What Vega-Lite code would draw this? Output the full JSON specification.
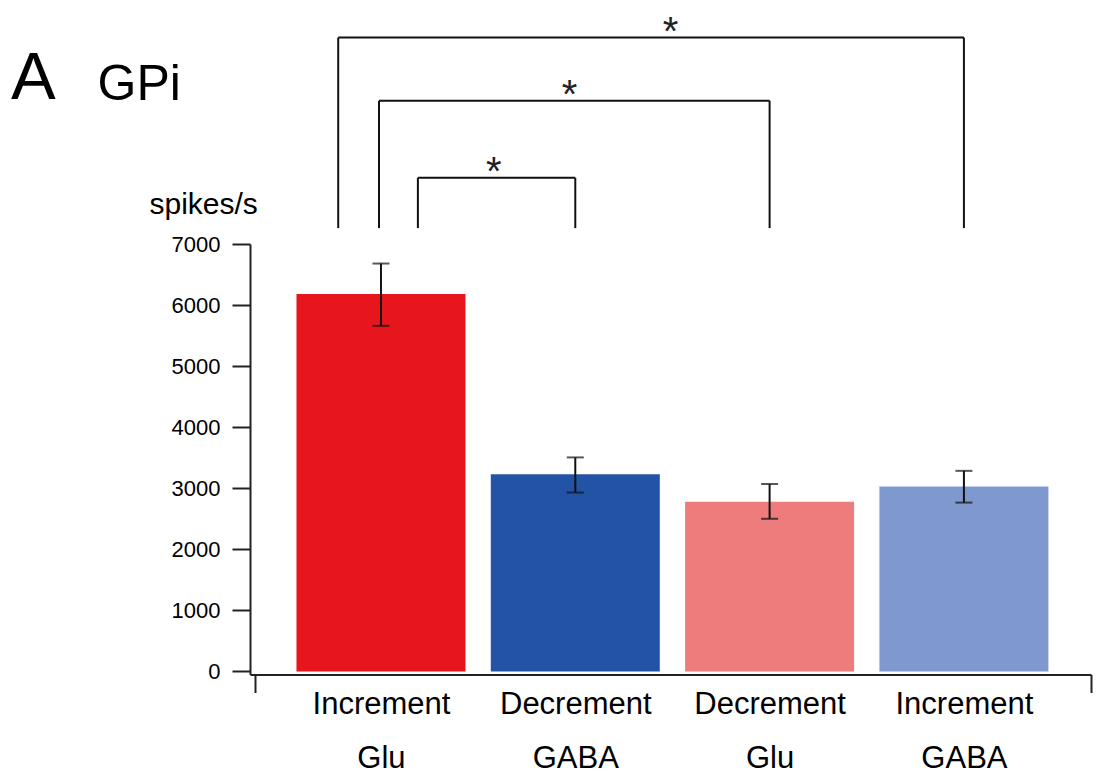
{
  "$schema": "https://vega.github.io/schema/vega-lite/v6.json",
  "autosize": "none",
  "width": 841,
  "height": 430.5,
  "padding": {"left": 250, "top": 244, "right": 6, "bottom": 105.5},
  "background": "white",
  "view": {"stroke": null},
  "title": {
    "text": "A",
    "font": "Liberation Sans",
    "fontSize": 67,
    "fontWeight": "normal",
    "color": "#000",
    "anchor": "start",
    "frame": "group",
    "dx": -239,
    "dy": 157,
    "baseline": "alphabetic"
  },
  "datasets": {
    "bars": [
      {"pos": 1, "change": "Increment", "transmitter": "Glu", "group": "Increment Glu", "mean": 6180, "lo": 5660, "hi": 6680},
      {"pos": 2, "change": "Decrement", "transmitter": "GABA", "group": "Decrement GABA", "mean": 3230, "lo": 2930, "hi": 3505},
      {"pos": 3, "change": "Decrement", "transmitter": "Glu", "group": "Decrement Glu", "mean": 2780, "lo": 2500, "hi": 3070},
      {"pos": 4, "change": "Increment", "transmitter": "GABA", "group": "Increment GABA", "mean": 3030, "lo": 2765, "hi": 3285}
    ],
    "brackets": [
      {"from": 0.78, "to": 4, "level": 10380, "base": 7260, "mid": 2.49, "label": "*"},
      {"from": 0.99, "to": 3, "level": 9345, "base": 7260, "mid": 1.97, "label": "*"},
      {"from": 1.19, "to": 2, "level": 8085, "base": 7260, "mid": 1.58, "label": "*"}
    ]
  },
  "layer": [
    {
      "data": {"name": "bars"},
      "mark": {"type": "bar", "width": 169},
      "encoding": {
        "x": {
          "field": "pos",
          "type": "quantitative",
          "scale": {"domain": [0.326, 4.654], "nice": false, "zero": false, "padding": 0},
          "axis": {
            "values": [0.352, 1, 2, 3, 4, 4.652],
            "labelExpr": "datum.value == 1 ? ['Increment', 'Glu'] : datum.value == 2 ? ['Decrement', 'GABA'] : datum.value == 3 ? ['Decrement', 'Glu'] : datum.value == 4 ? ['Increment', 'GABA'] : ''",
            "labelFont": "Liberation Sans",
            "labelFontSize": 31,
            "labelColor": "#000",
            "labelLineHeight": 54,
            "labelBaseline": "alphabetic",
            "labelPadding": 21,
            "labelOverlap": false,
            "labelFlush": false,
            "labelBound": false,
            "tickSize": 18,
            "tickWidth": 2,
            "tickColor": "#222",
            "tickOpacity": {"condition": {"test": "datum.value < 1 || datum.value > 4", "value": 1}, "value": 0},
            "domainColor": "#222",
            "domainWidth": 2,
            "grid": false,
            "title": "GPi",
            "titleFont": "Liberation Sans",
            "titleFontSize": 50,
            "titleFontWeight": "normal",
            "titleColor": "#000",
            "titleAlign": "left",
            "titleBaseline": "alphabetic",
            "titleX": -153,
            "titleY": -575
          }
        },
        "y": {
          "field": "mean",
          "type": "quantitative",
          "scale": {"domain": [-50, 7000], "nice": false, "zero": false, "padding": 0},
          "axis": {
            "values": [0, 1000, 2000, 3000, 4000, 5000, 6000, 7000],
            "format": "d",
            "labelFont": "Liberation Sans",
            "labelFontSize": 22,
            "labelColor": "#000",
            "labelPadding": 12,
            "tickSize": 18,
            "tickWidth": 2,
            "tickColor": "#222",
            "domainColor": "#222",
            "domainWidth": 2,
            "grid": false,
            "title": "spikes/s",
            "titleFont": "Liberation Sans",
            "titleFontSize": 30,
            "titleFontWeight": "normal",
            "titleColor": "#000",
            "titleAngle": 0,
            "titleAlign": "left",
            "titleBaseline": "alphabetic",
            "titleX": -101,
            "titleY": -31
          }
        },
        "color": {
          "field": "group",
          "type": "nominal",
          "scale": {
            "domain": ["Increment Glu", "Decrement GABA", "Decrement Glu", "Increment GABA"],
            "range": ["#E6161C", "#2353A5", "#EE7C7C", "#7F99CF"]
          },
          "legend": null
        }
      }
    },
    {
      "data": {"name": "bars"},
      "mark": {"type": "rule", "color": "#111", "strokeWidth": 2},
      "encoding": {
        "x": {"field": "pos", "type": "quantitative"},
        "y": {"field": "lo", "type": "quantitative"},
        "y2": {"field": "hi"}
      }
    },
    {
      "data": {"name": "bars"},
      "mark": {"type": "tick", "orient": "horizontal", "color": "#111", "size": 17, "thickness": 2},
      "encoding": {
        "x": {"field": "pos", "type": "quantitative"},
        "y": {"field": "lo", "type": "quantitative"}
      }
    },
    {
      "data": {"name": "bars"},
      "mark": {"type": "tick", "orient": "horizontal", "color": "#111", "size": 17, "thickness": 2},
      "encoding": {
        "x": {"field": "pos", "type": "quantitative"},
        "y": {"field": "hi", "type": "quantitative"}
      }
    },
    {
      "data": {"name": "brackets"},
      "mark": {"type": "rule", "color": "#111", "strokeWidth": 2},
      "encoding": {
        "x": {"field": "from", "type": "quantitative"},
        "x2": {"field": "to"},
        "y": {"field": "level", "type": "quantitative"}
      }
    },
    {
      "data": {"name": "brackets"},
      "mark": {"type": "rule", "color": "#111", "strokeWidth": 2},
      "encoding": {
        "x": {"field": "from", "type": "quantitative"},
        "y": {"field": "base", "type": "quantitative"},
        "y2": {"field": "level"}
      }
    },
    {
      "data": {"name": "brackets"},
      "mark": {"type": "rule", "color": "#111", "strokeWidth": 2},
      "encoding": {
        "x": {"field": "to", "type": "quantitative"},
        "y": {"field": "base", "type": "quantitative"},
        "y2": {"field": "level"}
      }
    },
    {
      "data": {"name": "brackets"},
      "mark": {"type": "text", "font": "Liberation Sans", "fontSize": 40, "color": "#222", "baseline": "alphabetic", "align": "center", "dy": 7},
      "encoding": {
        "x": {"field": "mid", "type": "quantitative"},
        "y": {"field": "level", "type": "quantitative"},
        "text": {"field": "label"}
      }
    }
  ]
}
